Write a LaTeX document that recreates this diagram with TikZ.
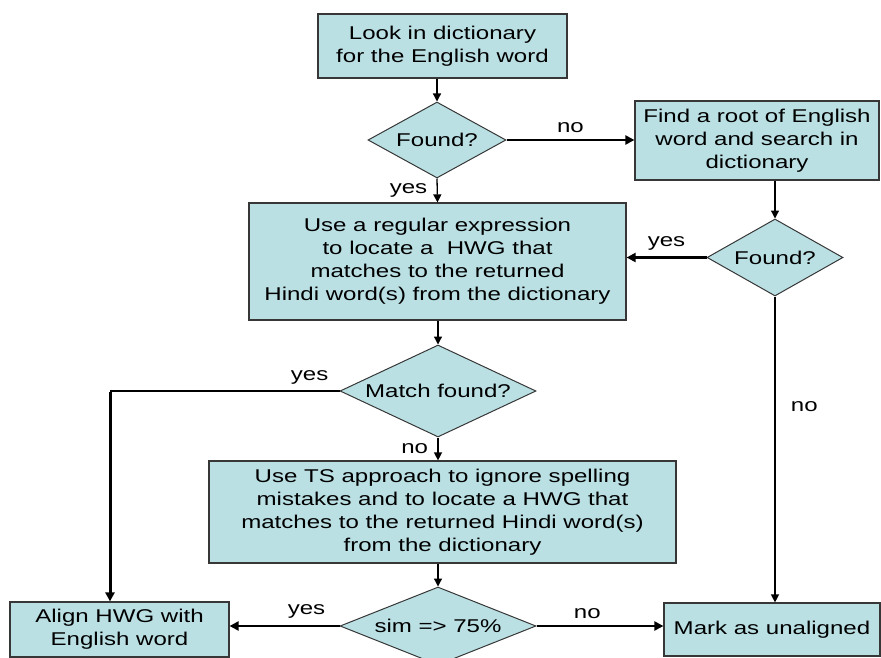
\documentclass[tikz,border=0pt]{standalone}
\usepackage{fontspec}
\setmainfont{Liberation Sans}[FakeStretch=1.3]
\usetikzlibrary{shapes.geometric,arrows.meta}

\definecolor{boxfill}{RGB}{186,224,228}
\definecolor{boxline}{RGB}{55,55,55}

\begin{document}
\begin{tikzpicture}[x=1pt, y=-1pt,
    every node/.style={font=\fontsize{18.5}{23}\selectfont},
    stepbox/.style={draw=boxline, line width=1.2pt, fill=boxfill, align=center, inner sep=0pt},
    decision/.style={diamond, draw=boxline, line width=1pt, fill=boxfill, inner sep=0pt, aspect=2},
    flow/.style={line width=1.3pt, -{Triangle[length=8pt, width=8pt]}},
    flowthick/.style={line width=2.2pt, -{Triangle[length=9pt, width=9pt]}}]

    % Rahmen des Bildes
    \useasboundingbox (0,0) rectangle (881,658);
    \clip (0,0) rectangle (881,658);

    % Oberstes Rechteck
    \node[stepbox, minimum width=249pt, minimum height=64pt] (lookup) at (442.5,46)
        {Look in dictionary\\for the English word};

    % Erste Abfrage
    \node[decision, minimum width=138pt, minimum height=76pt] (found) at (437,140) {Found?};

    % Wurzel suchen
    \node[stepbox, minimum width=244pt, minimum height=79pt] (root) at (757,140.5)
        {Find a root of English\\word and search in\\dictionary};
    \node[decision, minimum width=136pt, minimum height=77pt] (foundroot) at (775,257.5) {Found?};

    % Regulaerer Ausdruck
    \node[stepbox, minimum width=377pt, minimum height=117pt] (regex) at (437.5,261.5)
        {Use a regular expression\\to locate a \ HWG that\\matches to the returned\\Hindi word(s) from the dictionary};
    \node[decision, minimum width=196pt, minimum height=92pt] (match) at (438,391) {Match found?};

    % TS-Ansatz
    \node[stepbox, minimum width=467pt, minimum height=102pt] (tsbox) at (442.5,512)
        {Use TS approach to ignore spelling\\mistakes and to locate a HWG that\\matches to the returned Hindi word(s)\\from the dictionary};
    \node[decision, minimum width=196pt, minimum height=78pt] (sim) at (438,626) {sim => 75\%};

    % Ergebnisse
    \node[stepbox, minimum width=219pt, minimum height=55pt] (align) at (119.5,629.5)
        {Align HWG with\\English word};
    \node[stepbox, minimum width=216pt, minimum height=53pt] (mark) at (772,629.5)
        {Mark as unaligned};
    \coordinate (bend) at (110,391);

    % Verbindungen
    \draw[flow] (found.north |- lookup.south) -- (found.north);
    \draw[flowthick] (found.east) -- node[above=3pt] {no} (root.west |- found.east);
    \draw[flow] (found.south) -- node[left=6pt] {yes} (regex.north);
    \draw[flow] (foundroot.north |- root.south) -- (foundroot.north);
    \draw[flowthick] (foundroot.west) -- node[above=3pt] {yes} (regex.east |- foundroot.west);
    \draw[flow] (foundroot.south) -- node[right=12pt, pos=0.36] {no} (mark.north -| foundroot.south);
    \draw[flow] (regex.south -| match.north) -- (match.north);
    \draw[line width=1.2pt] (match.west) -- node[above=3pt, pos=0.13] {yes} (bend);
    \draw[flowthick, line width=3pt] ([yshift=-0.6pt]bend) -- (align.north -| bend);
    \draw[flow] (match.south) -- node[left=6pt] {no} (tsbox.north -| match.south);
    \draw[flow] (tsbox.south -| sim.north) -- (sim.north);
    \draw[flowthick] (sim.west) -- node[above=3pt, pos=0.3] {yes} (align.east |- sim.west);
    \draw[flowthick] (sim.east) -- node[above=3pt, pos=0.4] {no} (mark.west |- sim.east);
\end{tikzpicture}
\end{document}
